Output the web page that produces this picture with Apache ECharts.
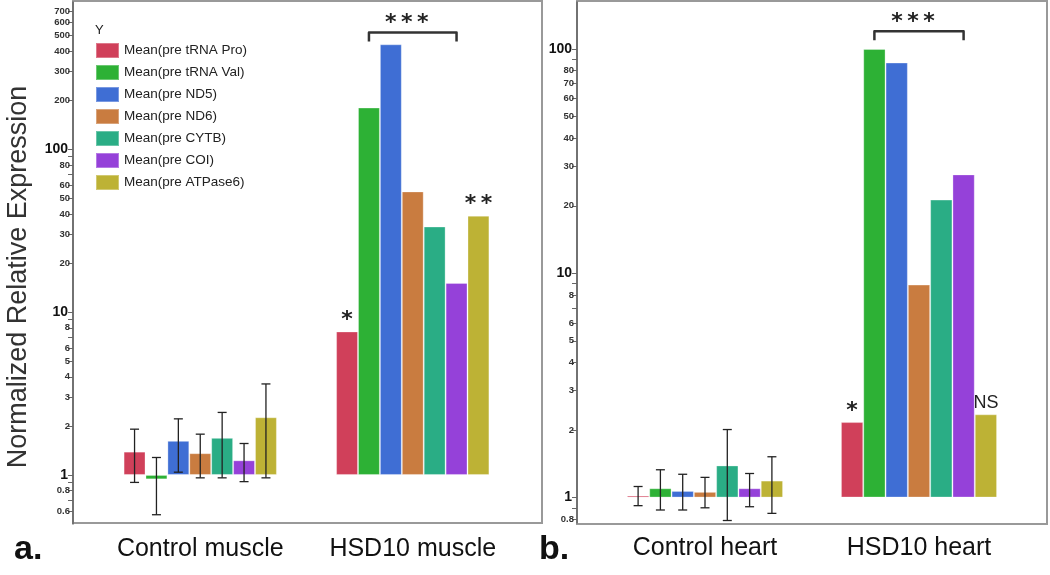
<!DOCTYPE html>
<html><head><meta charset="utf-8">
<script src="https://cdn.jsdelivr.net/npm/echarts@6/dist/echarts.min.js"></script>
<style>html,body{margin:0;padding:0;background:#fff}#c{width:1050px;height:575px}</style>
</head><body><div id="c"></div>
<script>
const seriesNames = ['Mean(pre tRNA Pro)','Mean(pre tRNA Val)','Mean(pre ND5)','Mean(pre ND6)','Mean(pre CYTB)','Mean(pre COI)','Mean(pre ATPase6)'];
const colors = ['#D0405A','#2DB135','#3F6ED4','#C97C40','#2AAD85','#9541D9','#BDB235'];
const muscleCategories = ['Control muscle','HSD10 muscle'];
const heartCategories = ['Control heart','HSD10 heart'];
// per series: [control, HSD10]
const muscleValues = [[1.39,7.6],[0.94,180],[1.62,440],[1.36,55],[1.69,33.5],[1.23,15.1],[2.26,39]];
const heartValues = [[1.02,2.17],[1.10,100],[1.07,87],[1.06,8.9],[1.39,21.3],[1.10,27.6],[1.19,2.35]];
// error bars on control groups: [low, high] per series
const muscleControlErr = [[0.90,1.91],[0.57,1.28],[1.04,2.21],[0.96,1.78],[0.96,2.42],[0.91,1.56],[0.96,3.62]];
const heartControlErr = [[0.92,1.12],[0.88,1.33],[0.88,1.27],[0.90,1.23],[0.79,2.01],[0.91,1.28],[0.85,1.52]];
// significance marks on HSD10 bars: [seriesIndex, text]
const muscleMarks = [[0,'*'],[6,'*\u2009*']];
const heartMarks = [[0,'*'],[6,'NS']];
// bracket: [category, level, fromSeries, toSeries, text]
const muscleBracket = [1, 520, 1, 5, '*\u2009*\u2009*'];
const heartBracket = [1, 120, 1, 5, '*\u2009*\u2009*'];
const muscleTicks = [0.6,0.7,0.8,0.9,1,2,3,4,5,6,7,8,9,10,20,30,40,50,60,70,80,90,100,200,300,400,500,600,700];
const muscleLabels = [0.6,0.8,1,2,3,4,5,6,8,10,20,30,40,50,60,80,100,200,300,400,500,600,700];
const heartTicks = [0.8,0.9,1,2,3,4,5,6,7,8,9,10,20,30,40,50,60,70,80,90,100];
const heartLabels = [0.8,1,2,3,4,5,6,8,10,20,30,40,50,60,70,80,100];
const majorLabels = [1,10,100];

const FONT = 'Liberation Sans';
const BW = [21.9, 22.3];

function markText(t){
  return t.indexOf('*') >= 0
    ? {fontFamily:'DejaVu Sans', fontSize:22, fontWeight:'bold', color:'#222'}
    : {fontFamily:FONT, fontSize:18, color:'#222'};
}

function buildBars(values, xi, marks){
  return values.map((v,i)=>{
    const mark = marks.find(m=>m[0]===i);
    return {
      name: seriesNames[i], type:'bar', xAxisIndex:xi, yAxisIndex:xi,
      barWidth: BW[xi], barGap:'0%',
      itemStyle:{color:colors[i], borderColor:'rgba(255,255,255,0.3)', borderWidth:1},
      emphasis:{disabled:true},
      data: v.map((val,ci)=> (ci===1 && mark)
        ? {value:val, label:Object.assign({show:true, position:'top', distance: mark[1]==='NS'?2:0, formatter: mark[1]}, markText(mark[1]))}
        : val)
    };
  });
}

function errSeries(err, xi){
  const bw = BW[xi];
  return {
    type:'custom', xAxisIndex:xi, yAxisIndex:xi, z:5, silent:true,
    encode:{x:0, y:[2,3]},
    data: err.map((e,i)=>[0,i,e[0],e[1]]),
    renderItem(params, api){
      const cat = api.value(0), idx = api.value(1);
      const lo = api.coord([cat, api.value(2)]);
      const hi = api.coord([cat, api.value(3)]);
      const x = lo[0] + (idx-3)*bw;
      const cap = 4.5;
      const st = {stroke:'#222', lineWidth:1.3};
      return {type:'group', children:[
        {type:'line', shape:{x1:x,y1:hi[1],x2:x,y2:lo[1]}, style:st},
        {type:'line', shape:{x1:x-cap,y1:hi[1],x2:x+cap,y2:hi[1]}, style:st},
        {type:'line', shape:{x1:x-cap,y1:lo[1],x2:x+cap,y2:lo[1]}, style:st}
      ]};
    }
  };
}

function bracketSeries(b, xi){
  const bw = BW[xi];
  return {
    type:'custom', xAxisIndex:xi, yAxisIndex:xi, z:5, silent:true,
    encode:{x:0, y:1},
    data:[[b[0], b[1], b[2], b[3]]],
    renderItem(params, api){
      const p = api.coord([api.value(0), api.value(1)]);
      const x1 = p[0] + (api.value(2)-3)*bw, x2 = p[0] + (api.value(3)-3)*bw;
      const y = p[1];
      return {type:'group', children:[
        {type:'polyline', shape:{points:[[x1,y+9],[x1,y],[x2,y],[x2,y+9]]},
          style:{stroke:'#333', lineWidth:2.5, fill:null, lineJoin:'round'}},
        {type:'text', style:{text:b[4], x:(x1+x2)/2 - 6, y:y+2, align:'center', verticalAlign:'bottom',
          font:'bold 22px "DejaVu Sans"', fill:'#222'}}
      ]};
    }
  };
}

function yAxisCfg(gi, min, max, ticks, labels){
  return {
    type:'log', gridIndex:gi, min:min, max:max, offset:21, position:'left',
    splitLine:{show:false},
    axisLine:{show:true, lineStyle:{color:'#666', width:1.5}},
    axisTick:{show:true, customValues:ticks, length:5, lineStyle:{color:'#666'}},
    minorTick:{show:false},
    axisLabel:{customValues:labels, margin:3,
      formatter: v => majorLabels.indexOf(+v) >= 0 ? '{b|'+v+'}' : '{s|'+v+'}',
      rich:{b:{fontSize:14, fontWeight:'bold', color:'#111', fontFamily:FONT, padding:[0,2,0,0]},
            s:{fontSize:9.5, fontWeight:'bold', color:'#333', fontFamily:FONT}}}
  };
}

function xAxisCfg(gi, cats){
  return {
    type:'category', gridIndex:gi, data:cats,
    axisLine:{show:false}, axisTick:{show:false}, splitLine:{show:false},
    axisLabel:{interval:0, fontSize:25, color:'#111', margin:13, fontFamily:FONT, hideOverlap:false}
  };
}

const chart = echarts.init(document.getElementById('c'), null, {renderer:'canvas'});
chart.setOption({
  animation:false,
  textStyle:{fontFamily:FONT},
  grid:[
    {left:94, top:2, width:425, height:522},
    {left:598, top:2, width:428, height:521}
  ],
  xAxis:[xAxisCfg(0, muscleCategories), xAxisCfg(1, heartCategories)],
  yAxis:[
    yAxisCfg(0, 0.5, 800, muscleTicks, muscleLabels),
    yAxisCfg(1, 0.77, 162, heartTicks, heartLabels)
  ],
  legend:{
    data:seriesNames, orient:'vertical', left:90, top:37, itemWidth:23, itemHeight:15, itemGap:5,
    icon:'rect', selectedMode:false,
    textStyle:{fontSize:13.5, color:'#222', fontFamily:FONT}
  },
  graphic:[
    {type:'rect', shape:{x:73, y:1, width:469, height:522}, style:{fill:null, stroke:'#999', lineWidth:2}, z:-1},
    {type:'rect', shape:{x:577, y:1, width:470, height:523}, style:{fill:null, stroke:'#999', lineWidth:2}, z:-1},
    {type:'text', x:95, y:30, style:{text:'Y', font:'13px "Liberation Sans"', fill:'#222', verticalAlign:'middle'}},
    {type:'text', x:19, y:277, rotation:Math.PI/2, style:{text:'Normalized Relative Expression', font:'27px "Liberation Sans"', fill:'#333', align:'center', verticalAlign:'middle'}},
    {type:'text', x:14, y:567, style:{text:'a.', font:'bold 34px "Liberation Sans"', fill:'#111', verticalAlign:'bottom'}},
    {type:'text', x:539, y:567, style:{text:'b.', font:'bold 34px "Liberation Sans"', fill:'#111', verticalAlign:'bottom'}}
  ],
  series:[
    ...buildBars(muscleValues, 0, muscleMarks),
    ...buildBars(heartValues, 1, heartMarks),
    errSeries(muscleControlErr, 0),
    errSeries(heartControlErr, 1),
    bracketSeries(muscleBracket, 0),
    bracketSeries(heartBracket, 1)
  ]
});
</script></body></html>
